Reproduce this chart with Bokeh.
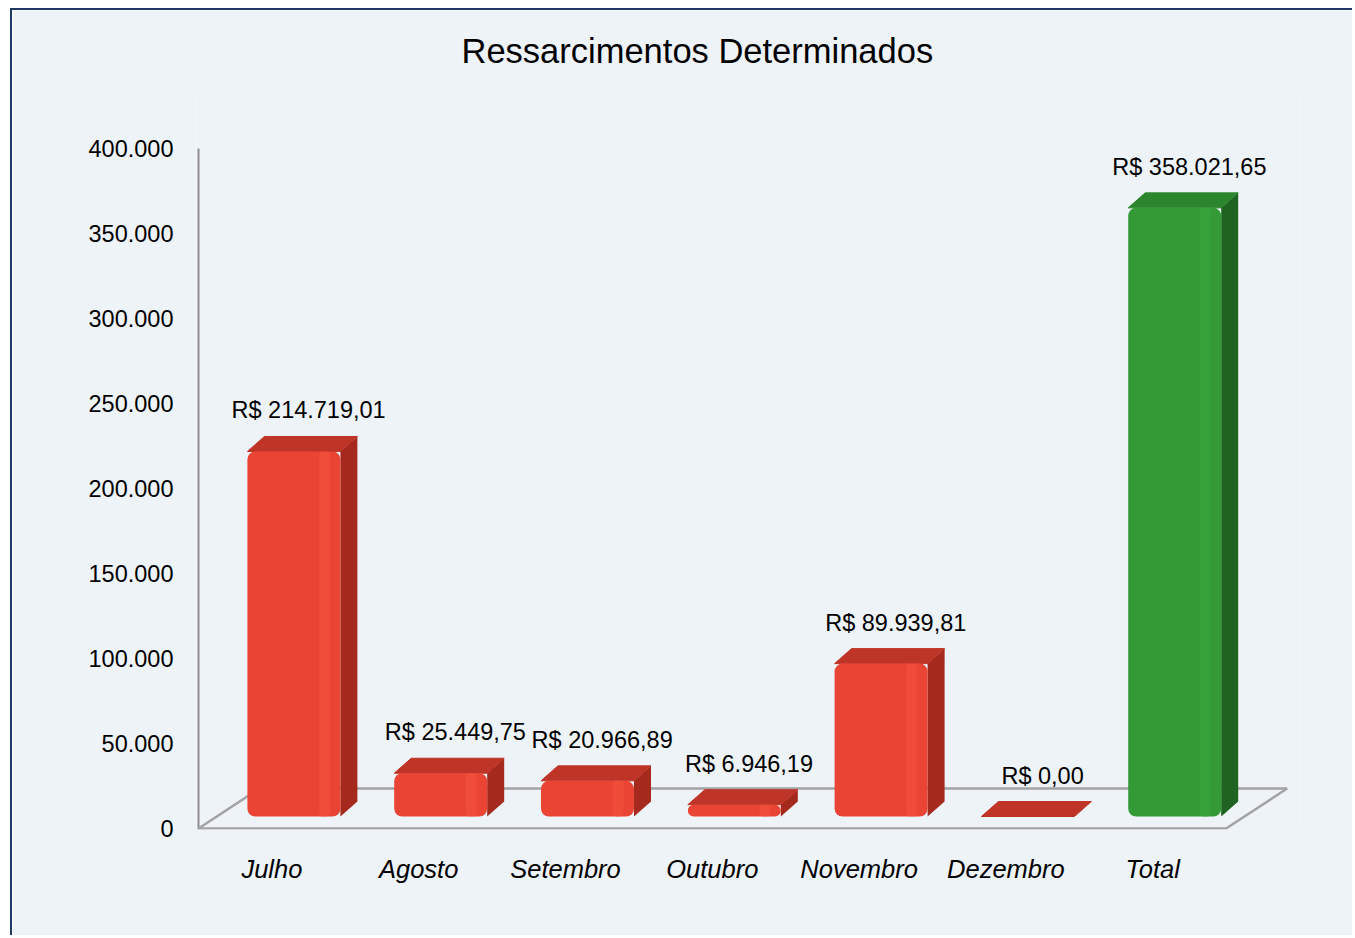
from bokeh.plotting import figure
from bokeh.models import Range1d, FixedTicker, ColumnDataSource
from bokeh.core.properties import value
from bokeh.embed import file_html
from bokeh.resources import INLINE

# ---------------- data ----------------
categories = ["Julho", "Agosto", "Setembro", "Outubro", "Novembro", "Dezembro", "Total"]
values = [214719.01, 25449.75, 20966.89, 6946.19, 89939.81, 0.00, 358021.65]
value_labels = ["R$ 214.719,01", "R$ 25.449,75", "R$ 20.966,89", "R$ 6.946,19",
                "R$ 89.939,81", "R$ 0,00", "R$ 358.021,65"]
y_ticks = [0, 50000, 100000, 150000, 200000, 250000, 300000, 350000, 400000]
y_tick_labels = ["0", "50.000", "100.000", "150.000", "200.000", "250.000",
                 "300.000", "350.000", "400.000"]
y_axis_max = 400000
title_text = "Ressarcimentos Determinados"

# ---------------- styles / geometry ----------------
BG = "#EEF3F8"
FONT = "Liberation Sans"
AXIS_GRAY = "#8E8E8E"
FLOOR_GRAY = "#A3A3A3"
RED = dict(front="#EA4434", light="#F35140", side="#A6291E", top="#BE3427")
GREEN = dict(front="#339A35", light="#3AA63C", side="#1F6321", top="#2B862D")

W, H = 1342, 927
PXX = 146.86                      # px per category
TITLE_STANDOFF = 38
ML, MT, MB = 184, 78, 108
x0 = -0.5 - 2 / PXX
x1 = 7.0
frame_w = round((x1 - x0) * PXX)
MR = W - ML - frame_w
frame_h = H - MT - MB
px_x = frame_w / (x1 - x0)
PXY = 1.7 / 1000                  # px per value unit
y0 = -588
y1 = y0 + frame_h / PXY
px_y = PXY

off_x = 22 / px_x
bar_w = 93 / px_x
base = 12 / px_y
sdx = 17 / px_x
sdy = 15 / px_y
fdx = 61 / px_x
fdy = 40 / px_y

p = figure(width=W, height=H, output_backend="svg", toolbar_location=None,
           x_range=Range1d(x0, x1), y_range=Range1d(y0, y1),
           min_border_left=ML, min_border_top=MT, min_border_bottom=MB,
           min_border_right=MR, title=title_text)
p.margin = (8, 0, 0, 10)
p.styles = {"border-left": "2px solid #1F3864", "border-top": "2px solid #1F3864"}
p.background_fill_color = BG
p.border_fill_color = BG
p.outline_line_color = None
p.grid.visible = False

p.title.text_font = FONT
p.title.text_font_size = "34.5px"
p.title.text_font_style = "normal"
p.title.text_color = "#000000"
p.title.align = "left"
p.title.offset = 265
p.title.vertical_align = "bottom"
p.title.standoff = TITLE_STANDOFF

# y axis (labels from the axis; its line drawn from 0 to the top tick)
p.yaxis.ticker = FixedTicker(ticks=y_ticks)
p.yaxis.major_label_overrides = {t: l for t, l in zip(y_ticks, y_tick_labels)}
p.yaxis.axis_line_color = None
p.yaxis.major_tick_line_color = None
p.yaxis.minor_tick_line_color = None
p.yaxis.major_label_standoff = 17
p.yaxis.major_label_text_font = FONT
p.yaxis.major_label_text_font_size = "23.5px"
p.yaxis.major_label_text_color = "#000000"
p.line([-0.5, -0.5], [y0, y_axis_max], line_color=AXIS_GRAY, line_width=2)

# x axis
idx = list(range(len(categories)))
p.xaxis.ticker = FixedTicker(ticks=idx)
p.xaxis.major_label_overrides = {i: c for i, c in zip(idx, categories)}
p.xaxis.axis_line_color = None
p.xaxis.major_tick_line_color = None
p.xaxis.minor_tick_line_color = None
p.xaxis.major_label_standoff = 19
p.xaxis.major_label_text_font = FONT
p.xaxis.major_label_text_font_size = "25.5px"
p.xaxis.major_label_text_font_style = "italic"
p.xaxis.major_label_text_color = "#000000"

# floor
n = len(categories)
fl, fr = -0.5, n - 0.5
p.line([fl, fr, fr + fdx, fl + fdx, fl], [0, 0, fdy, fdy, 0],
       line_color=FLOOR_GRAY, line_width=2.5)

# bars
cx = [i + off_x for i in idx]
left = [c - bar_w / 2 for c in cx]
right = [c + bar_w / 2 for c in cx]
top = [base + v for v in values]
pal = [GREEN if c == "Total" else RED for c in categories]

side_xs = [[r, r + sdx, r + sdx, r] for r in right]
side_ys = [[base, base + sdy, t + sdy, t] for t in top]
top_xs = [[l, l + sdx, r + sdx, r] for l, r in zip(left, right)]
top_ys = [[t, t + sdy, t + sdy, t] for t in top]

p.patches(side_xs, side_ys, fill_color=[c["side"] for c in pal], line_color=None)
p.patches(top_xs, top_ys, fill_color=[c["top"] for c in pal],
          line_color=[c["top"] for c in pal], line_width=1)

src = ColumnDataSource(dict(x=cx, b=[base] * n, t=top,
                            fc=[c["front"] for c in pal],
                            lc=[c["light"] for c in pal],
                            hx=[c + bar_w * 0.33 for c in cx]))
nz = [i for i, v in enumerate(values) if v > 0]
src_nz = ColumnDataSource({k: [src.data[k][i] for i in nz] for k in src.data})
p.vbar(x="x", width=bar_w, bottom="b", top="t", fill_color="fc", line_color=None,
       border_radius=8, source=src_nz)
p.vbar(x="hx", width=bar_w * 0.12, bottom="b", top="t", fill_color="lc",
       line_color=None, fill_alpha=0.6, border_radius=4, source=src_nz)

# value labels
p.text(x=[c + 0.1 for c in cx], y=[t + sdy for t in top], text=value_labels,
       text_align="center", text_baseline="middle", y_offset=-26,
       text_font=value(FONT), text_font_size="23.5px", text_color="#000000")

open("out.html", "w").write(file_html(p, INLINE))
